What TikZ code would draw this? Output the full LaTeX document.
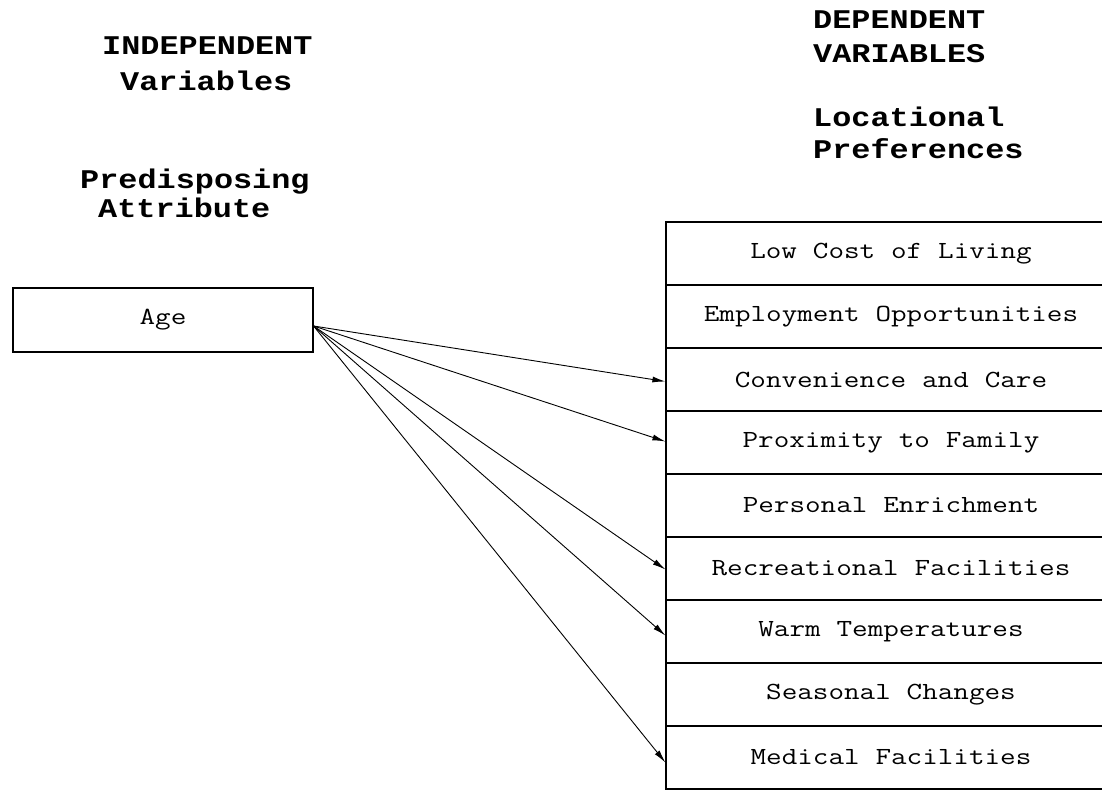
\documentclass[tikz,border=0pt]{standalone}
\usepackage{fontspec}
\setmonofont{Liberation Mono}
% wide, light typewriter face for the row labels
\newfontfamily\labelfont[FakeStretch=1.23]{Latin Modern Mono}
% one full character cell for every space of the label face
\newcommand\labelsize{\fontsize{24.6}{26}\selectfont
  \spaceskip=15.9pt\relax\xspaceskip=15.9pt\relax}
% bold typewriter face for the headings
\newfontfamily\headfont[FakeStretch=1.18]{Liberation Mono}
\usetikzlibrary{arrows.meta}

\tikzset{
  heading/.style={inner sep=0pt, anchor=base west,
    font=\headfont\bfseries\fontsize{27}{29}\selectfont},
  itembox/.style={draw, line width=1.2pt, rectangle, inner sep=0pt,
    font=\labelfont\labelsize},
  prefrow/.style={itembox, minimum width=450pt, minimum height=63pt},
  link/.style={line width=0.9pt, -{Latex[length=13pt,width=6pt]}}
}

\begin{document}
\begin{tikzpicture}[x=1pt, y=-1pt]
  \useasboundingbox (0,0) rectangle (1102,792);

  % column headings
  \node[heading] (indep)   at (102,55)  {INDEPENDENT};
  \node[heading] (indvar)  at (120,90)  {Variables};
  \node[heading] (predisp) at (80,188)  {Predisposing};
  \node[heading] (attrib)  at (98,217)  {Attribute};
  \node[heading] (dep)     at (813,29)  {DEPENDENT};
  \node[heading] (depvar)  at (813,63)  {VARIABLES};
  \node[heading] (locat)   at (813,126) {Locational};
  \node[heading] (prefs)   at (813,158) {Preferences};

  % predisposing attribute
  \node[itembox, minimum width=300pt, minimum height=64pt] (age) at (163,320) {Age};

  % stacked preference rows (open on the right)
  \node[prefrow] (cost)  at (891,253.5) {Low Cost of Living};
  \node[prefrow] (empl)  at (891,316.5) {Employment Opportunities};
  \node[prefrow] (conv)  at (891,379.5) {Convenience and Care};
  \node[prefrow] (prox)  at (891,442.5) {Proximity to Family};
  \node[prefrow] (enr)   at (891,505.5) {Personal Enrichment};
  \node[prefrow] (recr)  at (891,568.5) {Recreational Facilities};
  \node[prefrow] (warm)  at (891,631.5) {Warm Temperatures};
  \node[prefrow] (seas)  at (891,694.5) {Seasonal Changes};
  \node[prefrow] (med)   at (891,757.5) {Medical Facilities};

  % links from age to the preferences it influences
  \coordinate (src) at ([yshift=-6pt]age.east);
  \draw[link] (src) -- ([yshift=-2pt]conv.west);
  \draw[link] (src) -- ([yshift=1pt]prox.west);
  \draw[link] (src) -- ([yshift=-1pt]recr.west);
  \draw[link] (src) -- ([yshift=-4pt]warm.west);
  \draw[link] (src) -- ([yshift=-5pt]med.west);
\end{tikzpicture}
\end{document}
